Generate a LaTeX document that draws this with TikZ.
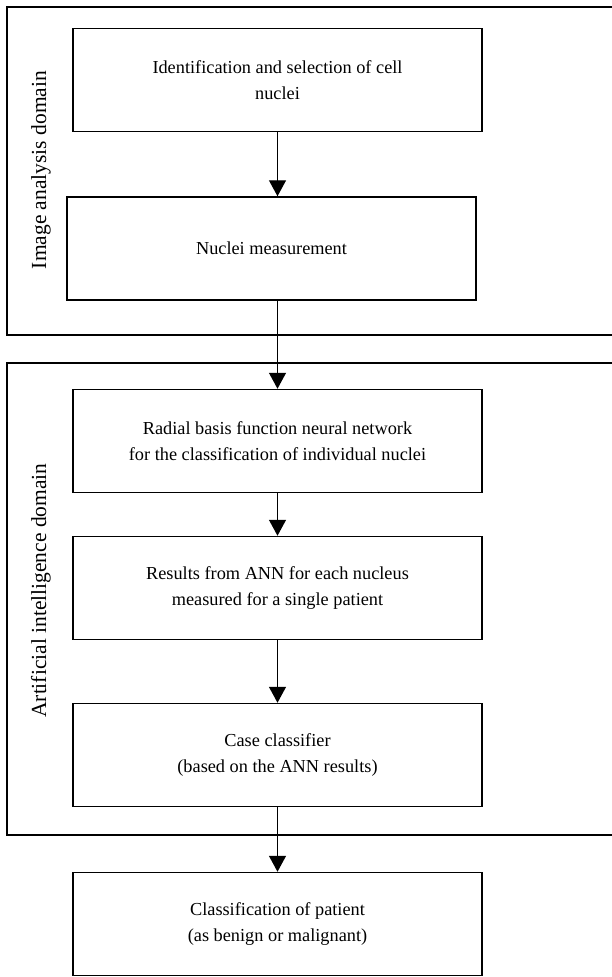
\documentclass[tikz,border=0pt]{standalone}
\usepackage{fontspec}
\setmainfont{Liberation Serif}
\usetikzlibrary{arrows.meta}
\begin{document}
\begin{tikzpicture}[x=1pt,y=-1pt,
  box/.style={draw, line width=1.5pt, minimum width=409pt, minimum height=103pt, align=center, inner sep=0pt,
    font=\fontsize{18.3}{26}\selectfont},
  domainbox/.style={draw, line width=1.5pt},
  lbl/.style={rotate=90, font=\fontsize{21.5}{24}\selectfont, inner sep=0pt},
  flow/.style={line width=1.4pt, -{Triangle[width=17pt,length=16pt]}}]
\useasboundingbox (0,0) rectangle (612,977);
\clip (0,0) rectangle (612,977);
\draw[domainbox] (7,7) rectangle (640,335);
\draw[domainbox] (7,363) rectangle (640,835);
\node[lbl] (l1) at (41,170) {Image analysis domain};
\node[lbl] (l2) at (41,590.5) {Artificial intelligence domain};
\node[box] (a) at (277.5,80) {Identification and selection of cell\\nuclei};
\node[box] (b) at (271.5,248.5) {Nuclei measurement};
\node[box] (c) at (277.5,441) {Radial basis function neural network\\for the classification of individual nuclei};
\node[box] (d) at (277.5,588) {Results from ANN for each nucleus\\measured for a single patient};
\node[box] (e) at (277.5,755) {Case classifier\\(based on the ANN results)};
\node[box] (f) at (277.5,924) {Classification of patient\\(as benign or malignant)};
\draw[flow] (a.south) -- (a.south |- b.north);
\draw[flow] (b.south -| a.south) -- (c.north);
\draw[flow] (c.south) -- (d.north);
\draw[flow] (d.south) -- (e.north);
\draw[flow] (e.south) -- (f.north);
\end{tikzpicture}
\end{document}
